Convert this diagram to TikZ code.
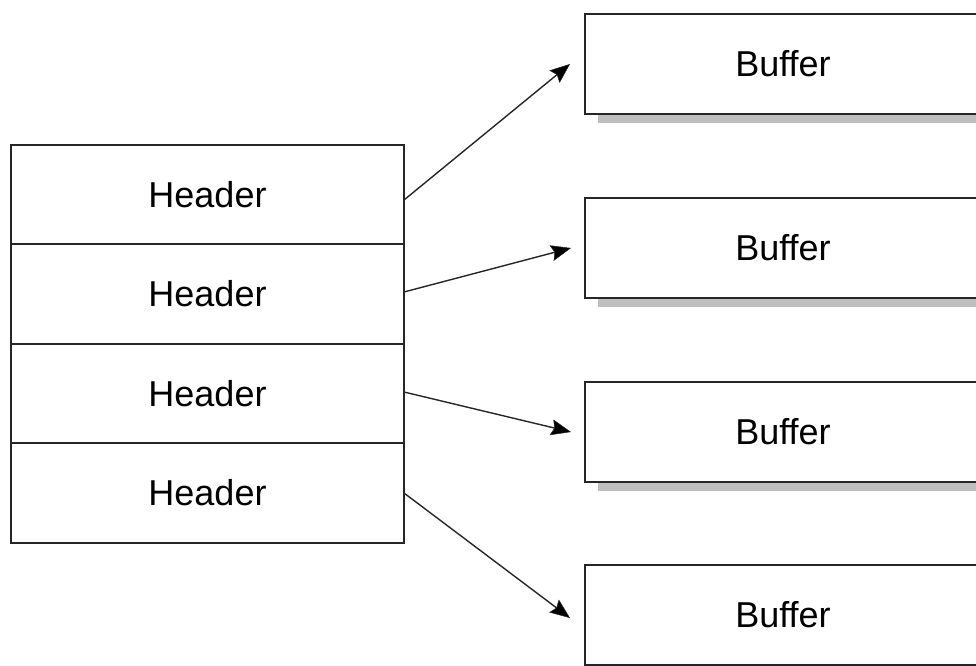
\documentclass[tikz,border=0pt]{standalone}
\usepackage{fontspec}
\setmainfont[Ligatures=NoCommon]{Liberation Sans}
\usetikzlibrary{arrows.meta}
\begin{document}
\begin{tikzpicture}[x=1bp,y=-1bp,
  hdr/.style={draw=black!85,line width=1.6bp,fill=white,inner sep=0pt,outer sep=0pt,
    minimum width=393bp,minimum height=99.5bp,font=\fontsize{36bp}{40bp}\selectfont},
  buf/.style={draw=black!85,line width=1.6bp,fill=white,inner sep=0pt,outer sep=0pt,
    minimum width=396bp,minimum height=100bp,font=\fontsize{36bp}{40bp}\selectfont},
  shade/.style={fill=black!25,draw=none},
  link/.style={draw=black!85,line width=1.4bp,
    -{Stealth[length=20bp,width=16bp,inset=3bp,fill=black,line width=0.5bp]}}]
\useasboundingbox (0,0) rectangle (976,666);
\clip (0,0) rectangle (976,666);

% drop shadows under the buffers
\foreach \yc in {64,248,432,615}
  \fill[shade] (598,\yc+50) rectangle (990,\yc+59);

% buffers on the right
\node[buf] (b1) at (783,64) {Buf{}fer};
\node[buf] (b2) at (783,248) {Buf{}fer};
\node[buf] (b3) at (783,432) {Buf{}fer};
\node[buf] (b4) at (783,615) {Buf{}fer};

% stack of headers on the left
\node[hdr] (h1) at (207.5,194.5) {Header};
\node[hdr] (h2) at (207.5,294) {Header};
\node[hdr] (h3) at (207.5,393.5) {Header};
\node[hdr] (h4) at (207.5,493) {Header};

% arrow tips stop short of each buffer
\coordinate (t1) at ([xshift=-15bp]b1.west);
\coordinate (t2) at ([xshift=-14bp]b2.west);
\coordinate (t3) at ([xshift=-14bp]b3.west);
\coordinate (t4) at ([xshift=-15bp,yshift=-3bp]b4.west);

\draw[link] ([yshift=-5.5bp]h1.east) -- (t1);
\draw[link] ([yshift=2bp]h2.east) -- (t2);
\draw[link] ([yshift=1.5bp]h3.east) -- (t3);
\draw[link] (h4.east) -- (t4);
\end{tikzpicture}
\end{document}
